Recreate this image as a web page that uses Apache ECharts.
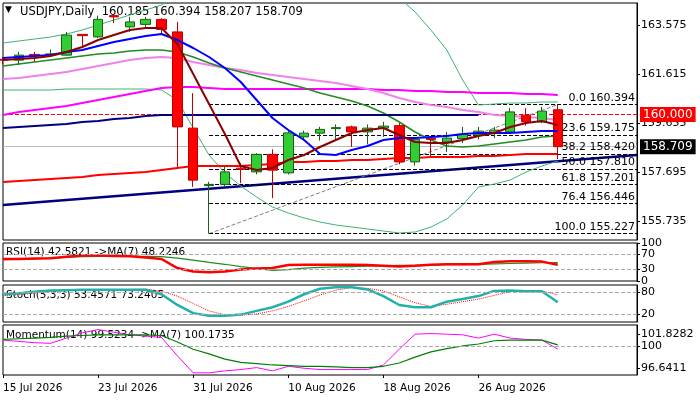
<!DOCTYPE html>
<html><head><meta charset="utf-8">
<script src="https://cdn.jsdelivr.net/npm/echarts@6/dist/echarts.min.js"></script>
<style>html,body{margin:0;padding:0;background:#fff}#c{width:700px;height:400px}</style>
</head><body><div id="c"></div>
<script>
const tickIdx = [0,6,12,18,24,30];
const tickLabels = ['15 Jul 2026','23 Jul 2026','31 Jul 2026','10 Aug 2026','18 Aug 2026','26 Aug 2026'];
const opens  = [162.2,162.17,162.4,162.38,162.37,163.2,163.1,163.95,163.5,163.6,163.8,163.3,159.45,157.15,157.2,157.85,157.7,158.4,157.66,159.1,159.25,159.43,159.5,159.3,159.45,159.55,158.1,159.05,158.9,159.03,159.17,159.25,159.3,159.97,159.7,160.185];
const closes = [162.17,162.37,162.35,162.42,163.17,163.15,163.8,163.9,163.7,163.8,163.4,159.5,157.37,157.2,157.7,157.8,158.4,157.77,159.26,159.25,159.4,159.47,159.3,159.45,159.53,158.1,159.0,159.0,159.05,159.2,159.33,159.37,160.1,159.7,160.13,158.709];
const highs  = [162.3,162.5,162.5,162.6,163.3,163.2,163.95,164.0,163.9,163.9,163.85,163.7,160.85,157.3,157.9,158.05,158.45,158.6,159.35,159.35,159.5,159.6,159.55,159.6,159.7,159.65,159.1,159.1,159.3,159.5,159.5,159.5,160.25,160.25,160.3,160.394];
const lows   = [162.0,161.98,162.1,162.3,162.35,162.7,163.05,163.65,163.3,163.5,163.25,157.9,157.1,155.227,157.1,157.25,157.6,156.65,157.6,158.95,158.95,159.0,158.7,158.8,159.1,158.0,157.95,158.3,158.5,158.85,159.0,159.05,159.25,159.55,159.65,158.207];
const maBrown = [162.175,162.215,162.255,162.335,162.495,162.695,162.975,163.175,163.375,163.455,163.455,162.815,161.615,160.415,159.215,157.935,157.775,157.855,158.175,158.375,158.695,158.975,159.255,159.375,159.455,159.175,158.895,158.855,158.855,158.975,159.135,159.255,159.495,159.655,159.735,159.575];
const maBlue = [162.255,162.295,162.335,162.375,162.495,162.575,162.735,162.895,163.015,163.135,163.215,162.975,162.655,162.295,161.855,161.295,160.575,159.855,159.375,158.975,158.415,158.375,158.575,158.735,158.975,159.055,159.055,159.095,159.135,159.215,159.255,159.255,159.255,159.295,159.335,159.335];
const maGreen = [161.935,162.015,162.095,162.175,162.255,162.335,162.415,162.455,162.535,162.575,162.575,162.495,162.295,162.055,161.855,161.695,161.535,161.375,161.215,161.055,160.855,160.695,160.535,160.335,160.055,159.695,159.295,158.975,158.735,158.695,158.735,158.815,158.895,158.975,159.095,159.135];
const maViolet = [161.415,161.455,161.535,161.615,161.695,161.815,161.935,162.055,162.175,162.255,162.295,162.255,162.095,161.975,161.855,161.775,161.655,161.575,161.495,161.415,161.335,161.255,161.135,161.015,160.855,160.655,160.495,160.375,160.295,160.175,160.095,159.975,159.935,159.895,159.855,159.775];
const maMagenta = [159.975,160.095,160.175,160.255,160.335,160.455,160.575,160.695,160.815,160.935,161.055,161.095,161.095,161.055,161.015,161.015,161.015,161.015,161.015,161.015,161.015,161.015,161.015,161.015,160.975,160.975,160.935,160.935,160.895,160.895,160.855,160.855,160.855,160.815,160.815,160.775];
const maRed = [157.295,157.335,157.375,157.415,157.455,157.495,157.575,157.615,157.655,157.695,157.775,157.855,157.935,157.935,157.935,157.935,157.975,158.015,158.095,158.095,158.135,158.135,158.175,158.175,158.215,158.255,158.255,158.295,158.295,158.295,158.335,158.335,158.375,158.415,158.415,158.415];
const navyStep = [159.455,159.495,159.535,159.575,159.615,159.695,159.735,159.815,159.855,159.935,159.975,159.975,159.975,159.975,159.975,159.975,159.975,159.975,159.975,159.975,159.975,159.975,159.975,159.975,159.975,159.975,159.975,159.975,159.975,159.975,159.975];
const bbUpper = [162.855,162.935,163.015,163.095,163.215,163.375,163.575,163.775,163.975,164.175,164.375,164.775,165.375,165.975,166.575,166.975,167.375,167.575,167.695,167.775,167.695,167.455,166.975,166.375,165.775,164.655,164.095,163.375,162.575,161.375,160.375,160.415,160.455,160.455,160.495,160.495];
const bbLower = [160.975,160.975,160.975,160.975,161.015,161.015,161.015,161.015,161.015,161.015,160.975,160.575,159.455,158.375,157.655,157.135,156.695,156.295,156.055,155.855,155.695,155.575,155.495,155.415,155.335,155.255,155.295,155.495,155.815,156.375,157.095,157.215,157.375,157.695,157.935,158.135];
const trendNavy = [[0,156.375],[40,158.375]];
const fibLow = [13,155.227], fibHigh = [35,160.394];
const fibPct = ['0.0','23.6','38.2','50.0','61.8','76.4','100.0'];
const fibLvl = [160.394,159.175,158.420,157.810,157.201,156.446,155.227];
const priceTicks = [155.735,157.695,159.655,161.615,163.575];
const rsi = [58,58,59,60,64,67,67,66,65,62,58,34,25,23,25,30,33,34,42,43,43,43,43,42,40,38,40,43,44,44,44,50,52,52,51,42.58];
const rsiMa = [56,57,58,60,62,64,65,65,65,65,64,60,55,49,44,38,33,28,30,34,36,37,38,39,40,41,41,42,43,43,44,45,46,47,48,48.22];
const stK = [74,78,82,85,86,87,87,87,87,87,75,46,24,17,17,20,30,40,55,75,90,94,94,88,70,46,40,40,55,62,70,84,85,83,83,53.46];
const stD = [71,74,78,82,85,86,87,87,88,89,83,70,50,30,19,18,22,30,42,57,73,86,93,91,84,68,52,42,48,55,62,72,82,85,84,73.24];
const mom = [100.9,100.7,100.5,100.4,101.2,102.0,102.5,102.1,101.7,101.5,101.3,98.5,95.9,95.9,96.2,96.4,96.7,96.2,96.9,96.6,96.4,96.4,96.4,96.4,97.1,99.5,101.8,101.9,101.8,101.7,101.2,101.8,101.2,101.0,100.9,99.52];
const momMa = [101.0,101.1,101.2,101.3,101.5,101.6,101.7,101.7,101.7,101.7,101.6,100.6,99.5,98.8,98.0,97.5,97.3,97.1,97.0,96.9,96.9,96.8,96.7,96.7,96.9,97.4,98.3,99.1,99.6,100.0,100.3,100.8,100.9,100.9,100.9,100.17];

const N = 41;
const cats = Array.from({length:N},(_,i)=>String(i));
const F = 'DejaVu Sans';
const grids = [
  {left:3,width:634,top:3,height:237},
  {left:3,width:634,top:243,height:38},
  {left:3,width:634,top:285,height:37},
  {left:3,width:634,top:325,height:50}
].map(g=>Object.assign(g,{show:true,borderColor:'#000',borderWidth:1,backgroundColor:'transparent'}));
const xAxes = grids.map((g,i)=>({type:'category',gridIndex:i,data:cats,boundaryGap:false,
  axisLine:{show:false},splitLine:{show:false},
  axisTick:{show:i===3,inside:false,length:3,lineStyle:{color:'#000'},interval:(idx)=>tickIdx.includes(idx)},
  axisLabel:{show:i===3,interval:(idx)=>tickIdx.includes(idx),formatter:(v,idx)=>tickLabels[tickIdx.indexOf(Number(v))]||'',
    align:'left',color:'#000',fontFamily:F,fontSize:10.5,margin:8}}));
function yax(i,min,max,vals,fmt){return {type:'value',gridIndex:i,position:'right',min,max,scale:true,
  axisLine:{show:true,lineStyle:{color:'#000'}},splitLine:{show:false},
  axisTick:{show:true,customValues:vals,length:3,lineStyle:{color:'#000'}},
  axisLabel:{customValues:vals,color:'#000',fontFamily:F,fontSize:11,margin:4,formatter:fmt||(v=>String(v))}};}
const yAxes=[yax(0,154.975,164.455,priceTicks,v=>v.toFixed(3)),yax(1,0,100,[0,30,70,100]),yax(2,0,100,[0,20,80,100]),
  yax(3,95.57,103.2,[96.6411,100,101.8282],v=>String(v))];
function line(data,color,w,gi,extra){return Object.assign({type:'line',data,xAxisIndex:gi||0,yAxisIndex:gi||0,symbol:'none',
  lineStyle:{color,width:w},silent:true,animation:false,clip:true,z:3},extra||{});}
function hdash(v,col){return {yAxis:v,lineStyle:{color:col||'#aaa',type:'dashed',width:1},label:{show:false}};}
const fibLines = fibLvl.map((v,k)=>[{coord:[String(fibLow[0]),v],lineStyle:{color:'#000',type:'dashed',width:1},
  label:{show:true,position:'insideEndTop',formatter:fibPct[k]+' '+v.toFixed(3),color:'#000',fontFamily:F,fontSize:11,distance:[2,1]}},
  {coord:[String(N-1),v]}]);
const option={animation:false,grid:grids,xAxis:xAxes,yAxis:yAxes,
 graphic:[
  {type:'text',left:5,top:5,style:{text:'▼',fill:'#000',font:'9px '+F}},
  {type:'text',left:20,top:6,style:{text:'USDJPY,Daily  160.185 160.394 158.207 158.709',fill:'#000',font:'11.5px '+F}},
  {type:'text',left:6,top:247,style:{text:'RSI(14) 42.5821 ->MA(7) 48.2246',fill:'#000',font:'10.5px '+F}},
  {type:'text',left:6,top:290,style:{text:'Stoch(5,3,3) 53.4571 73.2405',fill:'#000',font:'10.5px '+F}},
  {type:'text',left:6,top:330,style:{text:'Momentum(14) 99.5234 ->MA(7) 100.1735',fill:'#000',font:'10.5px '+F}}
 ],
 series:[
  line(bbUpper,'#3cb371',1,0),
  line(bbLower,'#3cb371',1,0),
  line(maMagenta,'#ff00ff',2,0),
  line(maViolet,'#ee82ee',2,0),
  line(maGreen,'#228b22',1.5,0),
  line(maRed,'#ff0000',2,0),
  line(navyStep,'#000080',2,0),
  {type:'candlestick',xAxisIndex:0,yAxisIndex:0,barWidth:10,z:4,silent:true,
   data:opens.map((o,i)=>[o,closes[i],lows[i],highs[i]]),
   itemStyle:{color:'#32cd32',color0:'#ff0000',borderColor:'#1a5e1a',borderColor0:'#c00000',borderWidth:1},
   markLine:{symbol:'none',silent:true,animation:false,z:2,data:[
     {yAxis:158.709,lineStyle:{color:'#bbb',type:'solid',width:1},label:{show:true,position:'end',formatter:'158.709',
       backgroundColor:'#000',color:'#fff',fontFamily:F,fontSize:12,padding:[2,3,1,3],distance:3}},
     {yAxis:160.000,lineStyle:{color:'#ff0000',type:'dashed',width:1},label:{show:true,position:'end',formatter:'160.000',
       backgroundColor:'#ff0000',color:'#fff',fontFamily:F,fontSize:12,padding:[2,3,1,3],distance:3}},
     [{coord:[String(trendNavy[0][0]),trendNavy[0][1]],lineStyle:{color:'#000080',type:'solid',width:2.5},label:{show:false}},{coord:[String(trendNavy[1][0]),trendNavy[1][1]]}],
     [{coord:[String(fibLow[0]),fibLow[1]],lineStyle:{color:'#808080',type:'dashed',width:1},label:{show:false}},{coord:[String(fibHigh[0]),fibHigh[1]]}],
     ...fibLines]}},
  line(maBlue,'#0000ff',2,0,{z:5}),
  line(maBrown,'#8b0000',2,0,{z:5}),
  line(rsiMa,'#228b22',1.2,1),
  line(rsi,'#ff0000',2.5,1,{markLine:{symbol:'none',silent:true,data:[hdash(70),hdash(30)]}}),
  line(stD,'#ff0000',1,2,{lineStyle:{color:'#ff0000',width:1,type:'dotted'},markLine:{symbol:'none',silent:true,data:[hdash(80),hdash(20)]}}),
  line(stK,'#20b2aa',2.5,2),
  line(mom,'#ff00ff',1,3,{markLine:{symbol:'none',silent:true,data:[hdash(100)]}}),
  line(momMa,'#008000',1.2,3)
 ]};
echarts.init(document.getElementById('c'),null,{renderer:'canvas'}).setOption(option);
</script></body></html>
